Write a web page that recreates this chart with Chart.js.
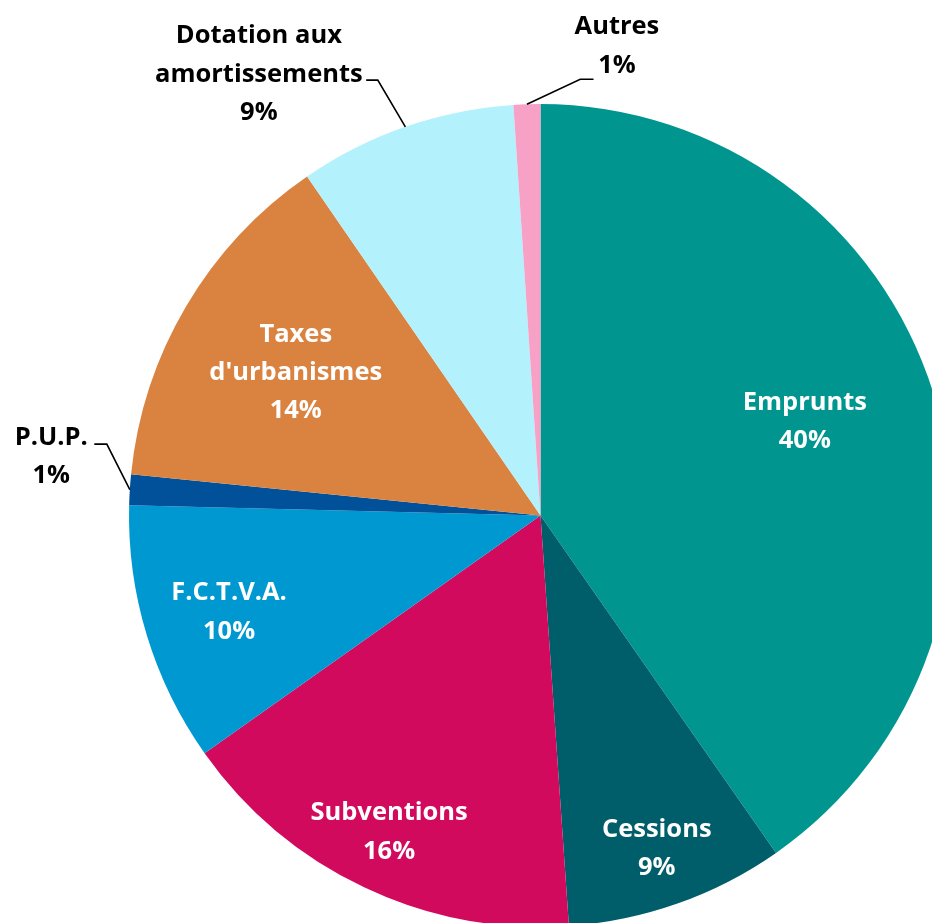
<!DOCTYPE html>
<html>
<head>
<meta charset="utf-8">
<script src="https://cdn.jsdelivr.net/npm/chart.js@4.4.0/dist/chart.umd.min.js"></script>
<style>
  html, body { margin: 0; padding: 0; background: #ffffff; overflow: hidden; width: 932px; height: 923px; }
  #wrap { position: absolute; left: 0; top: 0; width: 1000px; height: 1000px; }
</style>
</head>
<body>
<div id="wrap"><canvas id="c" width="1000" height="1000"></canvas></div>
<script>
// ---- data ----
const categories = ["Emprunts", "Cessions", "Subventions", "F.C.T.V.A.", "P.U.P.", "Taxes\nd'urbanismes", "Dotation aux\namortissements", "Autres"];
const shares = [40.3, 8.6, 16.3, 10.2, 1.2, 13.8, 8.55, 1.05];

// ---- styles ----
const sliceColors = ["#00968F", "#005E6A", "#D10A5E", "#0098D0", "#00519A", "#DA8340", "#B3F1FD", "#F8A1C7"];
const labelColors = ["#ffffff", "#ffffff", "#ffffff", "#ffffff", "#000000", "#ffffff", "#000000", "#000000"];
// inside labels: fraction of radius and angle shift (deg) from the slice's middle angle (null = outside label)
const insideRadius = [0.683, 0.853, 0.849, 0.791, null, 0.691, null, null];
const insideShift = [-2.4, 0.1, 0.3, 0, 0, 0, 0, 0];
// outside labels: elbow and label-centre offsets from the point where the leader meets the arc
const outside = {
  4: { elbow: [-23, -45.5], tail: -12.5, label: [-78.5, -35] },
  6: { elbow: [-27.6, -46.7], tail: -11.6, label: [-146.5, -54.2] },
  7: { elbow: [53.3, -25], tail: 13.3, label: [90, -60] }
};
const FONT = "bold 25.5px 'Open Sans', Lato, sans-serif";
const LINE_H = 38.3;
const CAP_HALF = 9.15;

const labelPlugin = {
  id: 'sliceLabels',
  afterDatasetsDraw(chart) {
    const ctx = chart.ctx;
    const meta = chart.getDatasetMeta(0);
    const data = chart.data.datasets[0].data;
    const total = data.reduce((a, b) => a + b, 0);
    ctx.save();
    ctx.font = FONT;
    ctx.textAlign = 'center';
    ctx.textBaseline = 'alphabetic';
    meta.data.forEach((arc, i) => {
      const p = arc.getProps(['x', 'y', 'startAngle', 'endAngle', 'outerRadius'], true);
      const mid = (p.startAngle + p.endAngle) / 2;
      const pct = Math.round(data[i] / total * 100) + '%';
      const lines = String(chart.data.labels[i]).split('\n').concat([pct]);
      let cx, cy;
      if (insideRadius[i] !== null) {
        const r = p.outerRadius * insideRadius[i];
        const a = mid + insideShift[i] * Math.PI / 180;
        cx = p.x + Math.cos(a) * r;
        cy = p.y + Math.sin(a) * r;
      } else {
        const o = outside[i];
        const ex = p.x + Math.cos(mid) * p.outerRadius;
        const ey = p.y + Math.sin(mid) * p.outerRadius;
        const bx = ex + o.elbow[0], by = ey + o.elbow[1];
        ctx.beginPath();
        ctx.moveTo(ex, ey);
        ctx.lineTo(bx, by);
        ctx.lineTo(bx + o.tail, by);
        ctx.strokeStyle = '#000000';
        ctx.lineWidth = 1.6;
        ctx.stroke();
        cx = ex + o.label[0];
        cy = ey + o.label[1];
      }
      ctx.fillStyle = labelColors[i];
      const n = lines.length;
      lines.forEach((t, k) => {
        ctx.fillText(t, cx, cy + CAP_HALF + (k - (n - 1) / 2) * LINE_H);
      });
    });
    ctx.restore();
  }
};

new Chart(document.getElementById('c'), {
  type: 'pie',
  data: {
    labels: categories,
    datasets: [{
      data: shares,
      backgroundColor: sliceColors,
      borderWidth: 0,
      hoverOffset: 0,
      offset: 0
    }]
  },
  options: {
    responsive: false,
    animation: false,
    layout: { padding: { left: 129, top: 104, right: 48, bottom: 73 } },
    plugins: { legend: { display: false }, tooltip: { enabled: false } }
  },
  plugins: [labelPlugin]
});
</script>
</body>
</html>
